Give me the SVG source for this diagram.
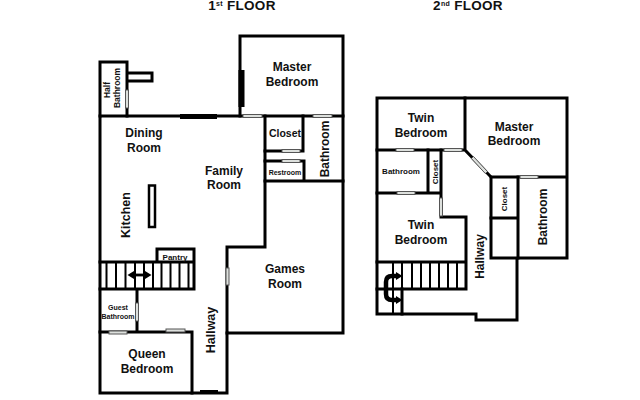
<svg xmlns="http://www.w3.org/2000/svg" width="640" height="400" viewBox="0 0 640 400">
<style>
.w{fill:none;stroke:#000;stroke-width:3;stroke-linecap:square;stroke-linejoin:miter}
.t{stroke-width:2}
.d{fill:#dde0dd;stroke:#555;stroke-width:1}
.k{fill:#000}
text{font-family:"Liberation Sans",Arial,sans-serif;font-weight:700;fill:#111;text-anchor:middle}
</style>
<defs>
<marker id="ah" markerUnits="userSpaceOnUse" markerWidth="7" markerHeight="9" refX="0" refY="4.500" orient="auto-start-reverse"><path d="M0 0.500L6.500 4.500L0 8.500Z" fill="#000"/></marker>
</defs>
<rect width="640" height="400" fill="#fff"/>
<g id="floor1-title"><text x="242" y="9.500" font-size="13.500" letter-spacing="0.300">1<tspan font-size="7" dy="-3.500">st</tspan><tspan dy="3.500"> FLOOR</tspan></text></g>
<g id="floor2-title"><text x="468" y="9.500" font-size="13.500" letter-spacing="0.300">2<tspan font-size="7" dy="-3.500">nd</tspan><tspan dy="3.500"> FLOOR</tspan></text></g>
<g id="floor1-walls">
<path class="w" d="M240 116V36H343V333H227V247H265V116"/>
<path class="w" d="M100 116H343M100 116V393H227V333"/>
<path class="w" d="M100 116V62H127V116M127 73H152V81H127"/>
<path class="w" d="M265 151H303V116M265 161H304V181M265 181H343"/>
<path class="w" d="M100 262H194V289H100M157 262V249H194V262M137 289V332M100 332H192V393"/>
<path class="w t" d="M106.500 262V289M116 262V289M125.500 262V289M135 262V289M144 262V289M153 262V289M161.500 262V289M170.500 262V289M179.500 262V289M188.500 262V289"/>
<rect class="w" x="149" y="185.500" width="6" height="41.500" style="stroke-width:2.500"/>
<rect class="k" x="180" y="114" width="37" height="5"/>
<rect class="k" x="238.500" y="70" width="6" height="37"/>
<rect class="k" x="200" y="390" width="18" height="4"/>
</g>
<g id="floor1-doors">
<rect class="d" x="125.500" y="90" width="3" height="18"/>
<rect class="d" x="243" y="114.500" width="19" height="3"/>
<rect class="d" x="313" y="114.500" width="19" height="3"/>
<rect class="d" x="282" y="149.500" width="18" height="3"/>
<rect class="d" x="282" y="159.500" width="18" height="3"/>
<rect class="d" x="226" y="268" width="3" height="17"/>
<rect class="d" x="135.500" y="303" width="3" height="18"/>
<rect class="d" x="109" y="331" width="18" height="3"/>
<rect class="d" x="166" y="329" width="19" height="3"/>
</g>
<g id="floor2-walls">
<path class="w" d="M377 98H567V258H491V177H567M377 98V314H476V320H517V258"/>
<path class="w" d="M465 98V150H377M465 150L491 177M518 177V258M491 218H518"/>
<path class="w" d="M377 193H441V217H466V289H377M428 150V193M441 150V193M377 262H466"/>
<path class="w t" d="M393 262V314M402 262V314M412 262V289M421 262V289M430 262V289M439 262V289M448 262V289M457 262V289"/>
<path class="w" d="M402 289V314"/>
</g>
<g id="floor2-doors">
<rect class="d" x="396" y="148.500" width="18" height="3"/>
<rect class="d" x="444" y="148.500" width="18" height="3"/>
<rect class="d" x="397" y="191.500" width="18" height="3"/>
<rect class="d" x="439.500" y="198" width="3" height="18"/>
<rect class="d" x="520" y="175.500" width="18" height="3"/>
<path class="d" d="M473.500 156.500L487.500 171.500L485.300 173.500L471.300 158.500Z"/>
</g>
<g id="connectors">
<path d="M134 275H145" fill="none" stroke="#000" stroke-width="2.800" marker-start="url(#ah)" marker-end="url(#ah)"/>
<path d="M396 276H392Q386 276 386 282V294Q386 300 392 300H396" fill="none" stroke="#000" stroke-width="4.500" marker-start="url(#ah)" marker-end="url(#ah)"/>
</g>
<g id="floor1-labels">
<g id="master-bedroom-1"><text x="292" y="71" font-size="12">Master</text><text x="292" y="86" font-size="12">Bedroom</text></g>
<g id="half-bathroom"><text transform="translate(110 90) rotate(-90)" font-size="8.500">Half</text><text transform="translate(120 88) rotate(-90)" font-size="8.500">Bathroom</text></g>
<g id="dining-room"><text x="144" y="137" font-size="12">Dining</text><text x="144" y="152" font-size="12">Room</text></g>
<g id="family-room"><text x="224" y="175" font-size="12">Family</text><text x="224" y="189" font-size="12">Room</text></g>
<g id="closet-1"><text x="285" y="137" font-size="10.500">Closet</text></g>
<g id="restroom"><text x="285" y="175" font-size="7">Restroom</text></g>
<g id="bathroom-1"><text transform="translate(329 149) rotate(-90)" font-size="12">Bathroom</text></g>
<g id="kitchen"><text transform="translate(130 215) rotate(-90)" font-size="12.500">Kitchen</text></g>
<g id="pantry"><text x="175" y="259.500" font-size="8">Pantry</text></g>
<g id="guest-bathroom"><text x="118" y="310" font-size="7">Guest</text><text x="118" y="318.500" font-size="7">Bathroom</text></g>
<g id="hallway-1"><text transform="translate(214.500 330) rotate(-90)" font-size="12.500">Hallway</text></g>
<g id="games-room"><text x="285" y="273" font-size="12">Games</text><text x="285" y="288" font-size="12">Room</text></g>
<g id="queen-bedroom"><text x="147" y="358" font-size="12">Queen</text><text x="147" y="373" font-size="12">Bedroom</text></g>
</g>
<g id="floor2-labels">
<g id="twin-bedroom-1"><text x="421" y="122" font-size="12">Twin</text><text x="421" y="137" font-size="12">Bedroom</text></g>
<g id="master-bedroom-2"><text x="514" y="131" font-size="12">Master</text><text x="514" y="145" font-size="12">Bedroom</text></g>
<g id="bathroom-2"><text x="401" y="174" font-size="8">Bathroom</text></g>
<g id="closet-2"><text transform="translate(437.500 172) rotate(-90)" font-size="8">Closet</text></g>
<g id="twin-bedroom-2"><text x="421" y="229" font-size="12">Twin</text><text x="421" y="243.500" font-size="12">Bedroom</text></g>
<g id="closet-3"><text transform="translate(507 199) rotate(-90)" font-size="8">Closet</text></g>
<g id="bathroom-3"><text transform="translate(547 217) rotate(-90)" font-size="12">Bathroom</text></g>
<g id="hallway-2"><text transform="translate(484 256.500) rotate(-90)" font-size="12">Hallway</text></g>
</g>
</svg>
